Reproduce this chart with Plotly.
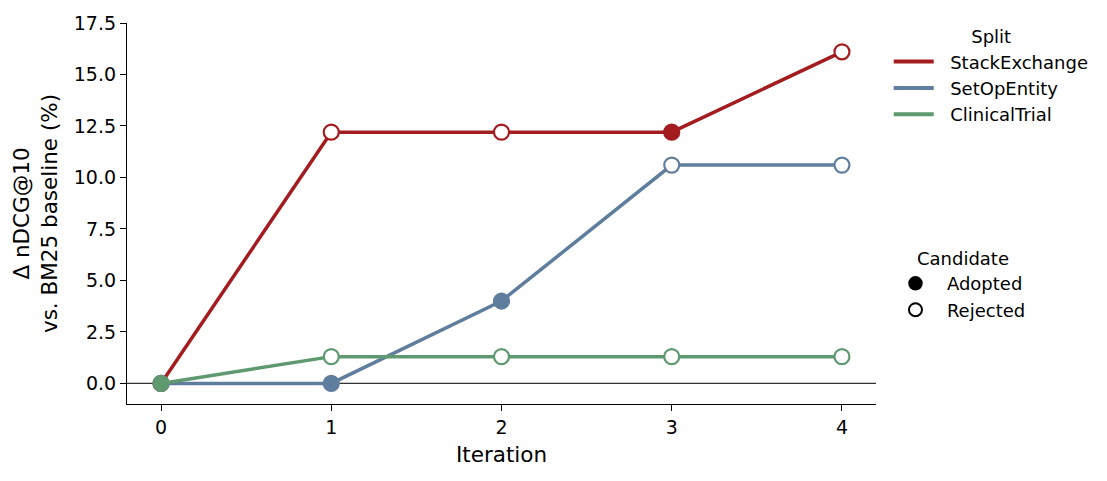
import plotly.graph_objects as go

iterations = [0, 1, 2, 3, 4]
splits = ["StackExchange", "SetOpEntity", "ClinicalTrial"]
values = {
    "StackExchange": [0.0, 12.2, 12.2, 12.2, 16.1],
    "SetOpEntity": [0.0, 0.0, 4.0, 10.6, 10.6],
    "ClinicalTrial": [0.0, 1.3, 1.3, 1.3, 1.3],
}
adopted = {
    "StackExchange": [True, False, False, True, False],
    "SetOpEntity": [True, True, True, False, False],
    "ClinicalTrial": [True, False, False, False, False],
}
colors = {
    "StackExchange": "#a31c20",
    "SetOpEntity": "#5f7d9c",
    "ClinicalTrial": "#5e9970",
}
candidate_labels = ["Adopted", "Rejected"]

FONT = "DejaVu Sans"
PAD = "\u00a0\u00a0"
fig = go.Figure()

# zero reference line
fig.add_trace(go.Scatter(x=[-0.2, 4.2], y=[0, 0], mode="lines",
                         line=dict(color="#333333", width=1.2),
                         showlegend=False, hoverinfo="skip"))

for s in splits:
    c = colors[s]
    fig.add_trace(go.Scatter(
        x=iterations, y=values[s], mode="lines+markers", name=s,
        line=dict(color=c, width=3.5),
        marker=dict(
            size=15,
            color=[c if a else "white" for a in adopted[s]],
            line=dict(color=c, width=2.2),
        ),
        showlegend=False,
    ))

# legend entries: Split
for s in splits:
    fig.add_trace(go.Scatter(x=[None], y=[None], mode="lines", name=PAD + s,
                             line=dict(color=colors[s], width=4),
                             legend="legend"))
# legend entries: Candidate
fig.add_trace(go.Scatter(x=[None], y=[None], mode="markers", name=PAD + candidate_labels[0],
                         marker=dict(size=13, color="black", line=dict(color="black", width=1.5)),
                         legend="legend2"))
fig.add_trace(go.Scatter(x=[None], y=[None], mode="markers", name=PAD + candidate_labels[1],
                         marker=dict(size=13, color="white", line=dict(color="black", width=2)),
                         legend="legend2"))

fig.update_layout(
    width=1107, height=481,
    margin=dict(l=127, r=231, t=21, b=77),
    plot_bgcolor="white", paper_bgcolor="white",
    font=dict(family=FONT, size=18, color="black"),
    xaxis=dict(
        range=[-0.2, 4.2], tickmode="array", tickvals=iterations,
        ticktext=[str(i) for i in iterations],
        showline=True, linecolor="black", linewidth=1.2,
        ticks="outside", ticklen=6, tickcolor="black",
        showgrid=False, zeroline=False, tickfont=dict(size=19),
        title=dict(text="Iteration", font=dict(size=21.5), standoff=10),
    ),
    yaxis=dict(
        range=[-1.0, 17.5], tick0=0, dtick=2.5, tickformat=".1f",
        showline=True, linecolor="black", linewidth=1.2,
        ticks="outside", ticklen=6, tickcolor="black",
        showgrid=False, zeroline=False, tickfont=dict(size=19),
        title=dict(text="Δ nDCG@10<br>vs. BM25 baseline (%)", font=dict(size=21.5), standoff=10),
    ),
    legend=dict(
        x=1.017, y=1.008, xanchor="left", yanchor="top",
        title=dict(text="Split", side="top center", font=dict(size=18)),
        font=dict(size=18), bgcolor="rgba(0,0,0,0)",
        itemwidth=40,
    ),
    legend2=dict(
        x=1.026, y=0.426, xanchor="left", yanchor="top",
        title=dict(text="Candidate", side="top center", font=dict(size=18)),
        font=dict(size=18), bgcolor="rgba(0,0,0,0)",
    ),
)

fig.write_html("out.html")
